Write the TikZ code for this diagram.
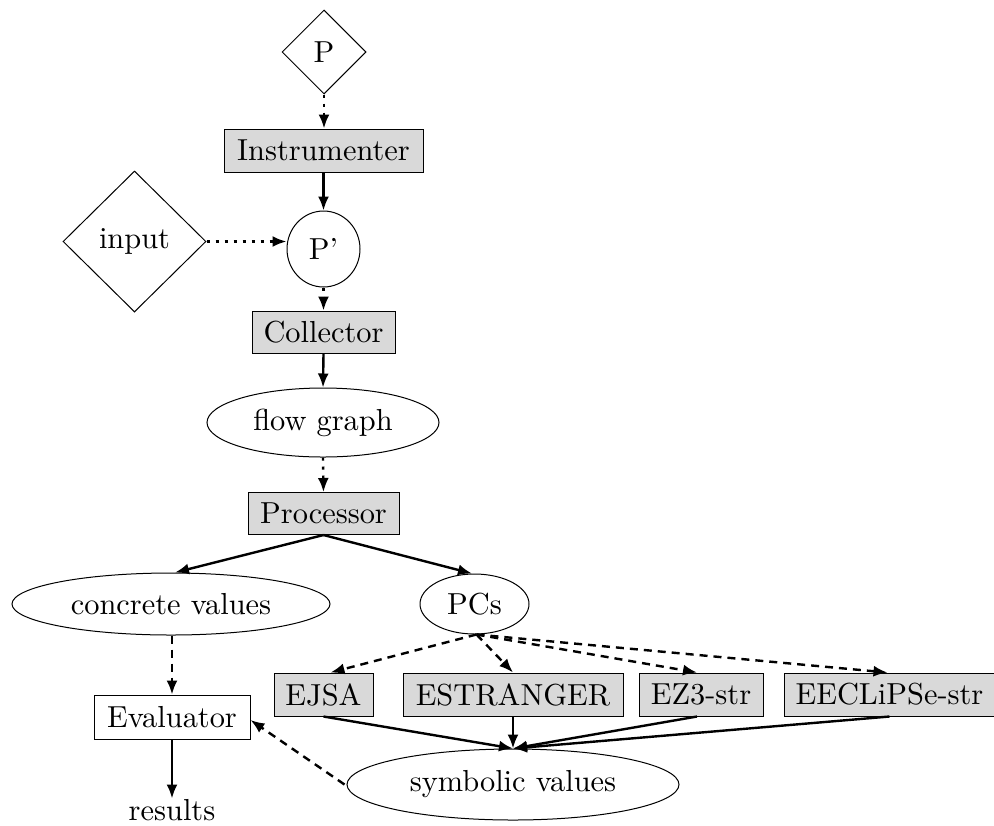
\documentclass[tikz,border=0pt]{standalone}
\usepackage{fontspec}
\setmainfont{lmroman10-regular}[Extension=.otf]
\usetikzlibrary{shapes.geometric,arrows.meta}
\definecolor{boxgray}{HTML}{D9D9D9}
\begin{document}
\begin{tikzpicture}[x=0.5pt,y=-0.5pt,
  every node/.style={font=\fontsize{15.2}{18}\selectfont, inner sep=0pt},
  proc/.style={draw, line width=0.5pt, fill=boxgray, rectangle, minimum height=21.5pt},
  wbox/.style={draw, line width=0.5pt, fill=white, rectangle, minimum height=22pt},
  ell/.style={draw, line width=0.5pt, ellipse},
  dia/.style={draw, line width=0.5pt, diamond},
  edge/.style={line width=1.2pt, -{Latex[length=7pt,width=5.5pt]}},
  dotedge/.style={edge, dash pattern=on 1.6pt off 2.9pt},
  dashedge/.style={edge, dash pattern=on 4pt off 3pt}
]
\useasboundingbox (0,0) rectangle (994,825);
\node[dia, minimum width=42pt, minimum height=42pt] (P) at (324,52) {P};
\node[proc, minimum width=99.5pt] (Instr) at (323.5,150.5) {Instrumenter};
\node[ell, minimum width=36.5pt, minimum height=38pt] (Pp) at (323.5,249) {P'};
\node[dia, minimum width=71.5pt, minimum height=70.5pt] (input) at (134.5,241.5) {input};
\node[proc, minimum width=71.5pt, minimum height=21pt] (Coll) at (323.5,332) {Collector};
\node[ell, minimum width=116pt, minimum height=34.5pt] (flow) at (323,422.5) {flow graph};
\node[proc, minimum width=75.5pt, minimum height=21pt] (Proc) at (323.5,513.5) {Processor};
\node[ell, minimum width=159pt, minimum height=31pt] (conc) at (171,604) {concrete values};
\node[ell, minimum width=54.5pt, minimum height=30pt] (PCs) at (474.5,604) {PCs};
\node[wbox, minimum width=78pt] (Eval) at (172,717) {Evaluator};
\node[anchor=base] (res) at (172,820) {results};
\node[proc, minimum width=49.5pt] (EJSA) at (323.5,694.5) {EJSA};
\node[proc, minimum width=110pt] (EST) at (513,694.5) {ESTRANGER};
\node[proc, minimum width=62pt] (EZ3) at (701,694.5) {EZ3-str};
\node[proc, minimum width=105.5pt] (ECL) at (889.5,694.5) {EECLiPSe-str};
\node[ell, minimum width=166pt, minimum height=35.5pt] (symb) at (513,784.5) {symbolic values};

\draw[dotedge] (P.south) -- (Instr.north -| P.south);
\draw[edge] (Instr.south) -- (Pp.north);
\draw[dotedge] (input.east) -- (Pp.west |- input.east);
\draw[dotedge] (Pp.south) -- (Coll.north);
\draw[edge] (Coll.south) -- (flow.north);
\draw[dotedge] (flow.south) -- (Proc.north);
\draw[edge] (Proc.south) -- ([xshift=2pt]conc.north);
\draw[edge] (Proc.south) -- ([xshift=-1.25pt]PCs.north);
\draw[dashedge] ([xshift=0.5pt]conc.south) -- (Eval.north);
\draw[edge] (Eval.south) -- (res.north);
\draw[dashedge] ([xshift=1pt]PCs.south) -- ([xshift=3.5pt]EJSA.north);
\draw[dashedge] ([xshift=1pt]PCs.south) -- (EST.north);
\draw[dashedge] ([xshift=1pt]PCs.south) -- ([xshift=-2pt]EZ3.north);
\draw[dashedge] ([xshift=1pt]PCs.south) -- ([xshift=-1pt]ECL.north);
\draw[edge] (EJSA.south) -- (symb.north);
\draw[edge] (EST.south) -- (symb.north);
\draw[edge] ([xshift=-2pt]EZ3.south) -- (symb.north);
\draw[edge] (ECL.south) -- (symb.north);
\draw[dashedge] ([xshift=-1pt]symb.west) -- ([yshift=-1.5pt]Eval.east);
\end{tikzpicture}
\end{document}
